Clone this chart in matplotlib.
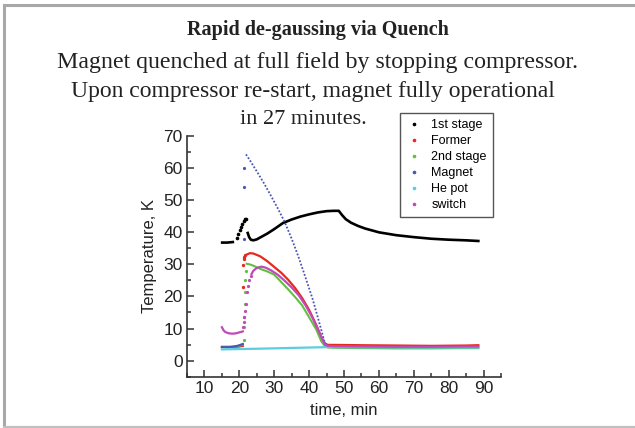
import matplotlib
matplotlib.use('Agg')
import matplotlib.pyplot as plt
from matplotlib import ticker
from matplotlib.lines import Line2D

# --- data (time in min, temperature in K) ---
t_pre = [15, 16, 17, 18, 19, 20, 21]

stage1_pre_t = [14.7, 15.5, 16.5, 17.5, 18.5]
stage1_pre = [36.8, 36.8, 36.8, 36.9, 37.0]
stage1_jump_t = [19.2, 19.7, 20.1, 20.5, 20.9, 21.3, 21.6, 22.0]
stage1_jump = [38.3, 39.5, 40.6, 41.7, 42.7, 43.5, 44.0, 44.3]
stage1_t = [22.4, 22.8, 23.3, 24, 25, 26, 28, 30, 32.5, 35, 37.5, 40, 42.5, 45,
            47, 48.5, 49.5, 50.5, 52, 54, 56, 60, 65, 70, 75, 80, 85, 88.5]
stage1 = [39.8, 38.5, 37.7, 37.5, 37.8, 38.4, 39.6, 41.0, 42.9, 44.0, 44.9, 45.6,
          46.2, 46.6, 46.7, 46.7, 45.3, 44.1, 43.0, 42.0, 41.2, 40.0, 39.1, 38.5,
          38.0, 37.7, 37.5, 37.3]

former_pre = [4.3, 4.3, 4.3, 4.3, 4.3, 4.4, 4.6]
former_jump_t = [21.1, 21.1, 21.2, 21.3, 21.5]
former_jump = [22.9, 29.7, 31.6, 32.3, 32.8]
former_t = [22, 23, 24, 26, 28, 30, 32, 34, 36, 38, 40, 42, 43.5, 44.5, 45.3,
            47, 55, 65, 75, 85, 88.5]
former = [33.0, 33.5, 33.4, 32.5, 31.0, 29.2, 27.4, 25.2, 22.6, 19.5, 15.8, 11.2,
          7.3, 5.4, 4.9, 4.9, 4.8, 4.7, 4.6, 4.7, 4.8]

stage2_pre = [4.2, 4.2, 4.2, 4.3, 4.4, 4.6, 5.0]
stage2_jump_t = [21.2, 21.3, 21.4, 21.5, 21.6, 21.7, 21.8]
stage2_jump = [6.5, 10.4, 13.5, 17.7, 21.4, 25.0, 28.0]
stage2_t = [22.1, 23, 24, 26, 28, 30, 32, 34, 36, 38, 40, 42, 43.5, 44.5, 45.3,
            47, 55, 65, 75, 85, 88.5]
stage2 = [30.2, 30.0, 29.6, 28.6, 27.8, 26.8, 24.5, 22.2, 19.8, 17.2, 13.5, 9.8,
          6.0, 4.6, 4.1, 4.0, 3.9, 3.8, 3.8, 3.9, 3.9]

magnet_pre = [4.2, 4.2, 4.2, 4.3, 4.5, 4.8, 5.2]
magnet_jump_t = [21.3, 21.3, 21.3]
magnet_jump = [37.8, 54.0, 60.2]
magnet_t = [21.9, 23, 25, 27, 29, 31, 33, 35, 37, 39, 41, 43, 44.5, 45.3, 47, 50,
            60, 70, 80, 88.5]
magnet = [64.3, 62.5, 59.0, 55.4, 51.5, 47.5, 43.2, 38.0, 32.2, 25.8, 19.2, 11.5,
          5.5, 4.5, 4.3, 4.3, 4.2, 4.2, 4.2, 4.3]

hepot_t = [15, 25, 35, 45, 55, 70, 88.5]
hepot = [3.5, 3.7, 3.95, 4.2, 4.15, 4.1, 4.1]

switch_pre_t = [15, 15.5, 16, 17, 18, 19, 20, 21]
switch_pre = [10.4, 9.4, 8.9, 8.5, 8.4, 8.5, 8.8, 9.1]
switch_jump_t = [21.0, 21.2, 21.4, 21.6, 21.9, 22.2, 22.5, 22.8, 23.2]
switch_jump = [10.4, 12.0, 13.5, 15.5, 17.7, 21.4, 23.2, 25.0, 26.5]
switch_t = [23.5, 24, 25, 26.3, 27.5, 29, 31, 33, 35, 37, 39, 41, 43, 44.5, 45.3,
            47, 55, 65, 75, 85, 88.5]
switch = [27.0, 28.0, 28.9, 29.3, 29.0, 28.2, 26.8, 24.9, 22.8, 20.4, 17.2, 13.3,
          8.6, 5.0, 4.6, 4.5, 4.4, 4.3, 4.3, 4.4, 4.4]

names = ['1st stage', 'Former', '2nd stage', 'Magnet', 'He pot', 'switch']
colors = ['black', '#e8281e', '#62c040', '#4a55b5', '#5ccde0', '#c04ab8']

plt.rcParams['font.family'] = ['Liberation Sans', 'DejaVu Sans']

fig = plt.figure(figsize=(6.35, 4.28), dpi=100)
ax = fig.add_axes([0.2945, 0.120, 0.4945, 0.562])

c = colors
ax.plot(stage1_pre_t, stage1_pre, color=c[0], lw=1.9, solid_capstyle='butt')
ax.plot(stage1_jump_t, stage1_jump, ls='none', marker='o', ms=1.6, color=c[0])
ax.plot(stage1_t, stage1, color=c[0], lw=1.9)

ax.plot(t_pre, former_pre, color=c[1], lw=1.6)
ax.plot(former_jump_t, former_jump, ls='none', marker='o', ms=1.4, color=c[1])
ax.plot(former_t, former, color=c[1], lw=1.6)

ax.plot(t_pre, stage2_pre, color=c[2], lw=1.5)
ax.plot(stage2_jump_t, stage2_jump, ls='none', marker='o', ms=1.3, color=c[2])
ax.plot(stage2_t, stage2, color=c[2], lw=1.5)

ax.plot(t_pre, magnet_pre, color=c[3], lw=1.5)
ax.plot(magnet_jump_t, magnet_jump, ls='none', marker='o', ms=1.3, color=c[3])
ax.plot(magnet_t, magnet, color=c[3], lw=1.3, ls=(0, (1, 1)))

ax.plot(hepot_t, hepot, color=c[4], lw=1.6)

ax.plot(switch_pre_t, switch_pre, color=c[5], lw=1.6)
ax.plot(switch_jump_t, switch_jump, ls='none', marker='o', ms=1.3, color=c[5])
ax.plot(switch_t, switch, color=c[5], lw=1.6)

ax.set_xlim(5, 95)
ax.set_ylim(-5, 70)
ax.xaxis.set_major_locator(ticker.MultipleLocator(10))
ax.xaxis.set_minor_locator(ticker.MultipleLocator(5))
ax.yaxis.set_major_locator(ticker.MultipleLocator(10))
ax.yaxis.set_minor_locator(ticker.MultipleLocator(5))
ax.set_xticks(range(10, 100, 10))
ax.set_yticks(range(0, 80, 10))
ax.tick_params(which='both', direction='in', color='#333333', width=1.1,
               labelsize=12.5, labelcolor='#222222', pad=3)
ax.tick_params(which='major', length=5)
ax.tick_params(which='minor', length=3)
for side in ['top', 'right']:
    ax.spines[side].set_visible(False)
for side in ['left', 'bottom']:
    ax.spines[side].set_linewidth(1.2)
    ax.spines[side].set_color('#333333')
ax.set_xlabel('time, min', fontsize=12, color='#222222', labelpad=5)
ax.set_ylabel('Temperature, K', fontsize=12, color='#222222', labelpad=5)

handles = [Line2D([], [], ls='none', marker='o', ms=1.6, color=col) for col in colors]
fig.legend(handles, names, loc='upper left', bbox_to_anchor=(0.630, 0.736),
           fontsize=9, frameon=True, fancybox=False, edgecolor='#555555',
           framealpha=1, labelspacing=0.32, handlelength=1.2, handletextpad=0.8,
           borderpad=0.5, borderaxespad=0)

fig.text(0.5, 0.930, 'Rapid de-gaussing via Quench', ha='center', va='center',
         fontsize=14.5, fontweight='bold', family='Liberation Serif', color='#222222')
fig.text(0.5, 0.855, 'Magnet quenched at full field by stopping compressor.',
         ha='center', va='center', fontsize=17.2, family='Liberation Serif', color='#222222')
fig.text(0.493, 0.787, 'Upon compressor re-start, magnet fully operational',
         ha='center', va='center', fontsize=17, family='Liberation Serif', color='#222222')
fig.text(0.477, 0.720, 'in 27 minutes.', ha='center', va='center', fontsize=16,
         family='Liberation Serif', color='#222222')

# grey frame around the slide (open on the right)
fig.add_artist(Line2D([0.0063, 0.0063], [0.0035, 0.988], transform=fig.transFigure,
                      color='#a8a8a8', lw=2.2))
fig.add_artist(Line2D([0.0063, 1.0], [0.988, 0.988], transform=fig.transFigure,
                      color='#a8a8a8', lw=2.2))
fig.add_artist(Line2D([0.0063, 1.0], [0.0035, 0.0035], transform=fig.transFigure,
                      color='#c0c0c0', lw=1.6))

plt.savefig('out.png', dpi=100)
